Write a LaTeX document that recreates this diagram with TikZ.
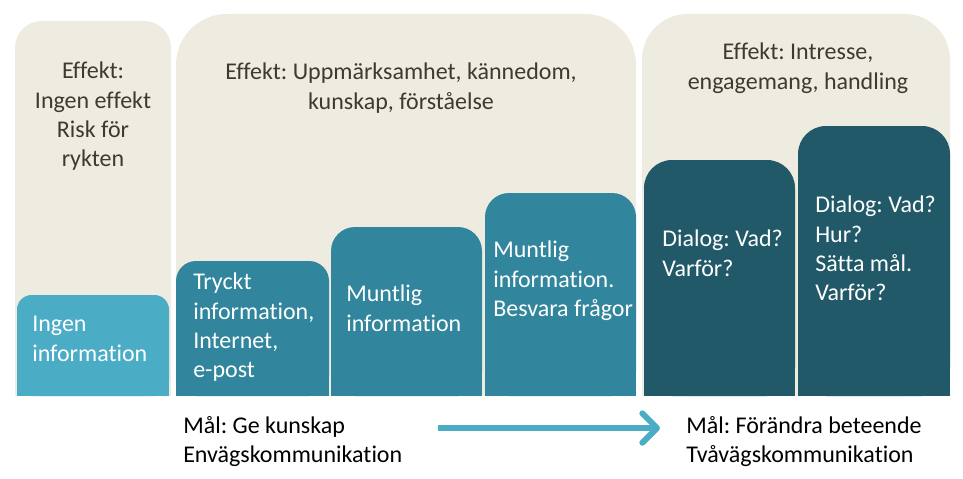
\documentclass[tikz,border=0pt]{standalone}
\usepackage{fontspec}
\setmainfont{Carlito}[Ligatures=NoCommon]
\usetikzlibrary{arrows.meta,positioning}
\definecolor{Sand}{HTML}{EEECE1}
\definecolor{LightTeal}{HTML}{4BACC6}
\definecolor{MidTeal}{HTML}{31859C}
\definecolor{DarkTeal}{HTML}{215968}
\definecolor{SandText}{HTML}{3D3A2E}
\frenchspacing
\tikzset{
  txt/.style={font=\fontsize{18}{22}\selectfont, inner sep=0pt, execute at begin node=\strut},
  effekt/.style={txt, text=SandText, align=center, anchor=north},
  bartxt/.style={txt, text=white, align=left, anchor=north west},
  maltxt/.style={txt, text=black, align=left, anchor=north west},
  arr/.style={-{Straight Barb[length=11pt,width=22pt,line width=4.5pt,round]}, line width=4.5pt, draw=LightTeal}
}
\begin{document}
\begin{tikzpicture}[x=0.75pt,y=-0.75pt]
\useasboundingbox (0,0) rectangle (963,478);
% panels and bars: left/right/top/radius/colour
\foreach \xa/\xb/\yt/\r/\c in {15/171/21/20/Sand, 176/636/14/38/Sand, 642/950/14/34/Sand,
  17/169/295/11/LightTeal, 176/329/261/15/MidTeal, 331/482/227/18/MidTeal, 485/636/193/18/MidTeal,
  644/795/160/21/DarkTeal, 798/950/126/21/DarkTeal}{
  \fill[\c, rounded corners=\r pt] (\xa,\yt) rectangle (\xb,396);
  \fill[\c] (\xa,\yt+55) rectangle (\xb,396);
}
\node[effekt] (e1) at (93,62) {Effekt:\\Ingen effekt\\Risk för\\rykten};
\node[effekt] (e2) at (401,63) {Effekt: Uppmärksamhet, kännedom,\\kunskap, förståelse};
\node[effekt] (e3) at (798,43) {Effekt: Intresse,\\engagemang, handling};
\node[bartxt] (b1) at (32,316) {Ingen\\information};
\node[bartxt] (b2) at (193,273) {Tryckt\\information,\\Internet,\\e-post};
\node[bartxt] (b3) at (346,285) {Muntlig\\information};
\node[bartxt] (b4) at (493,241) {Muntlig\\information.\\Besvara frågor};
\node[bartxt] (b5) at (662,230) {Dialog: Vad?\\Varför?};
\node[bartxt] (b6) at (815,196) {Dialog: Vad?\\Hur?\\Sätta mål.\\Varför?};
\node[maltxt] (m1) at (183,416) {Mål: Ge kunskap\\Envägskommunikation};
\node[maltxt] (m2) at (686,416) {Mål: Förändra beteende\\Tvåvägskommunikation};
\coordinate (pilstart) at (438,428);
\coordinate (pilslut) at (660,428);
\draw[arr] (pilstart) -- (pilslut);
\end{tikzpicture}
\end{document}
